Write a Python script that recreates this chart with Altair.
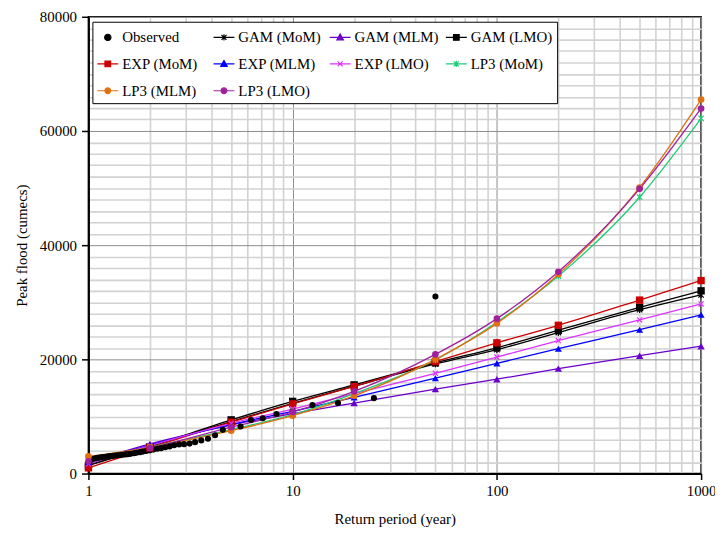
import altair as alt
import pandas as pd

# ---------------- data ----------------
return_periods = [1, 2, 5, 10, 20, 50, 100, 200, 500, 1000]

gam_mom = [1500, 4800, 9100, 12300, 15300, 19200, 21700, 24700, 28700, 31300]
gam_mlm = [2000, 5200, 8500, 10500, 12350, 14780, 16520, 18380, 20640, 22300]
gam_lmo = [1400, 4700, 9400, 12640, 15530, 19400, 22030, 25100, 29100, 32000]
exp_mom = [1000, 4500, 9000, 12200, 15250, 19600, 22900, 25970, 30380, 33800]
exp_mlm = [2000, 5000, 8600, 10900, 13340, 16700, 19300, 21860, 25200, 27800]
exp_lmo = [1700, 4900, 8800, 11300, 14000, 17560, 20400, 23300, 26900, 29700]
lp3_mom = [2300, 4600, 7700, 10300, 14000, 19900, 26500, 34600, 48400, 62200]
lp3_mlm = [3000, 4600, 7500, 10140, 13620, 20000, 26300, 34900, 50100, 65500]
lp3_lmo = [2140, 4460, 8120, 10780, 14380, 20870, 27130, 35350, 49860, 63940]

obs_T = [50, 25, 16.67, 12.5, 10, 8.33, 7.14, 6.25, 5.56, 5.0, 4.55, 4.17, 3.85,
         3.57, 3.33, 3.13, 2.94, 2.78, 2.63, 2.5, 2.38, 2.27, 2.17, 2.08, 2.0,
         1.92, 1.85, 1.79, 1.72, 1.67, 1.61, 1.56, 1.52, 1.47, 1.43, 1.39, 1.35,
         1.32, 1.28, 1.25, 1.22, 1.19, 1.16, 1.14, 1.11, 1.09, 1.06, 1.04, 1.02]
obs_Q = [31000, 13200, 12350, 12000, 11000, 10430, 9680, 9390, 8230, 7900, 7650,
         6700, 6100, 5800, 5500, 5250, 5150, 5100, 4950, 4750, 4600, 4450, 4350,
         4200, 4060, 3950, 3850, 3750, 3650, 3550, 3450, 3400, 3350, 3300, 3250,
         3200, 3150, 3100, 3050, 3000, 2950, 2900, 2850, 2800, 2750, 2700, 2600,
         2500, 2300]

series_names = ["Observed", "GAM (MoM)", "GAM (MLM)", "GAM (LMO)",
                "EXP (MoM)", "EXP (MLM)", "EXP (LMO)",
                "LP3 (MoM)", "LP3 (MLM)", "LP3 (LMO)"]
series_colors = ["#000000", "#000000", "#6a00cc", "#000000",
                 "#cc0000", "#0000ff", "#dd33ff",
                 "#22cc77", "#e07010", "#a020a0"]
fitted = {
    "GAM (MoM)": gam_mom, "GAM (MLM)": gam_mlm, "GAM (LMO)": gam_lmo,
    "EXP (MoM)": exp_mom, "EXP (MLM)": exp_mlm, "EXP (LMO)": exp_lmo,
    "LP3 (MoM)": lp3_mom, "LP3 (MLM)": lp3_mlm, "LP3 (LMO)": lp3_lmo,
}

x_grid_values = [1, 2, 3, 4, 5, 6, 7, 8, 9, 10, 20, 30, 40, 50, 60, 70, 80, 90,
                 100, 200, 300, 400, 500, 600, 700, 800, 900, 1000]
y_grid_values = list(range(0, 80001, 2000))

# ---------------- marker styles ----------------
ASTER = "M-1,-1L1,1M-1,1L1,-1M0,-1.25V1.25"
XMARK = "M-1,-1L1,1M-1,1L1,-1"
plot_marker = {
    "Observed": ("circle", True, 38),
    "GAM (MoM)": (ASTER, False, 30),
    "GAM (MLM)": ("triangle-up", True, 55),
    "GAM (LMO)": ("square", True, 55),
    "EXP (MoM)": ("square", True, 55),
    "EXP (MLM)": ("triangle-up", True, 50),
    "EXP (LMO)": (XMARK, False, 26),
    "LP3 (MoM)": (ASTER, False, 30),
    "LP3 (MLM)": ("circle", True, 45),
    "LP3 (LMO)": ("circle", True, 45),
}

LINE = "M-1,0H1"
SQ = "M-0.27,-0.27H0.27V0.27H-0.27Z"
TRI = "M0,-0.33L0.31,0.23H-0.31Z"
CIR = "M0.27,0A0.27,0.27 0 1,1 -0.27,0A0.27,0.27 0 1,1 0.27,0Z"
LX = "M-0.24,-0.24L0.24,0.24M-0.24,0.24L0.24,-0.24"
LAST = LX + "M0,-0.3V0.3"
legend_shapes = [
    "M0.3,0A0.3,0.3 0 1,1 -0.3,0A0.3,0.3 0 1,1 0.3,0Z",
    LINE + LAST, LINE + TRI, LINE + SQ,
    LINE + SQ, LINE + TRI, LINE + LX,
    LINE + LAST, LINE + CIR, LINE + CIR,
]

# ---------------- tables ----------------
rows = []
for name, vals in fitted.items():
    for t, q in zip(return_periods, vals):
        rows.append({"T": t, "Q": q, "series": name})
fit_df = pd.DataFrame(rows)
obs_df = pd.DataFrame({"T": obs_T, "Q": obs_Q, "series": "Observed"})
all_pts = pd.concat([obs_df, fit_df], ignore_index=True)
legend_df = pd.DataFrame({"series": series_names})

FONT = "Liberation Serif"
x_major = "indexof([1,10,100,1000], datum.value) >= 0"
y_major = "datum.value % 20000 == 0"

x_enc = alt.X(
    "T:Q",
    scale=alt.Scale(type="log", domain=[1, 1000], nice=False),
    axis=alt.Axis(
        values=x_grid_values, tickCount=200,
        labelExpr=f"{x_major} ? format(datum.value, 'd') : ''",
        title="Return period (year)",
        grid=True,
        gridColor={"condition": {"test": x_major, "value": "#8c8c8c"}, "value": "#d2d2d2"},
        gridWidth={"condition": {"test": x_major, "value": 1.0}, "value": 1.6},
        tickOpacity={"condition": {"test": x_major, "value": 1}, "value": 0},
        tickSize=6, tickColor="black", tickWidth=1.5,
        domainColor="black", domainWidth=2,
        labelFlush=False, labelOverlap=False,
        labelFont=FONT, labelFontSize=15, labelColor="black", labelPadding=4,
        titleFont=FONT, titleFontSize=15, titleFontWeight="normal",
        titleColor="black", titlePadding=13,
    ),
)
y_enc = alt.Y(
    "Q:Q",
    scale=alt.Scale(domain=[0, 80000], nice=False),
    axis=alt.Axis(
        values=y_grid_values, tickCount=200,
        labelExpr=f"{y_major} ? format(datum.value, 'd') : ''",
        title="Peak flood (cumecs)",
        grid=True,
        gridColor={"condition": {"test": y_major, "value": "#8c8c8c"}, "value": "#d2d2d2"},
        gridWidth={"condition": {"test": y_major, "value": 1.0}, "value": 1.6},
        tickOpacity={"condition": {"test": y_major, "value": 1}, "value": 0},
        tickSize=7, tickColor="black", tickWidth=1.5,
        domainColor="black", domainWidth=2,
        labelFlush=False, labelOverlap=False,
        labelFont=FONT, labelFontSize=15, labelColor="black", labelPadding=5,
        titleFont=FONT, titleFontSize=15, titleFontWeight="normal",
        titleColor="black", titlePadding=10,
    ),
)

color_of = dict(zip(series_names, series_colors))

layers = []
# fitted lines, one layer per series with its own fixed colour
for i, name in enumerate(fitted):
    enc = dict(x=x_enc, y=y_enc) if i == 0 else dict(x="T:Q", y="Q:Q")
    layers.append(
        alt.Chart(fit_df).transform_filter(alt.datum.series == name)
        .mark_line(interpolate="monotone", strokeWidth=1.3, color=color_of[name])
        .encode(**enc)
    )
# markers
for name in series_names:
    shape, filled, size = plot_marker[name]
    layers.append(
        alt.Chart(all_pts).transform_filter(alt.datum.series == name)
        .mark_point(shape=shape, filled=filled, size=size, opacity=1,
                    strokeWidth=1.2, color=color_of[name])
        .encode(x="T:Q", y="Q:Q")
    )

# legend (built from the series list through fill/stroke/shape scales)
leg = alt.Legend(
    title=None, orient="none", legendX=4, legendY=5, columns=4,
    direction="horizontal", gridAlign="all",
    fillColor="white", strokeColor="black", padding=4, cornerRadius=0,
    labelFont=FONT, labelFontSize=15, labelColor="black", labelOffset=3,
    symbolSize=441, symbolStrokeWidth=1.2, symbolOpacity=1,
    columnPadding=4, rowPadding=7, labelLimit=200,
)
legend_layer = alt.Chart(legend_df).transform_filter("false").mark_point(
    filled=True
).encode(
    fill=alt.Fill("series:N", scale=alt.Scale(domain=series_names, range=series_colors), legend=leg),
    stroke=alt.Stroke("series:N", scale=alt.Scale(domain=series_names, range=series_colors), legend=leg),
    shape=alt.Shape("series:N", scale=alt.Scale(domain=series_names, range=legend_shapes), legend=leg),
)
layers.append(legend_layer)

chart = alt.layer(*layers).properties(
    width=617, height=460,
    autosize=alt.AutoSizeParams(type="none"),
    padding={"left": 81, "top": 7, "right": 14, "bottom": 54},
).configure(font=FONT).configure_view(stroke="black", strokeWidth=1.5)

chart.save("out.html", embed_options={"renderer": "svg", "actions": False})
